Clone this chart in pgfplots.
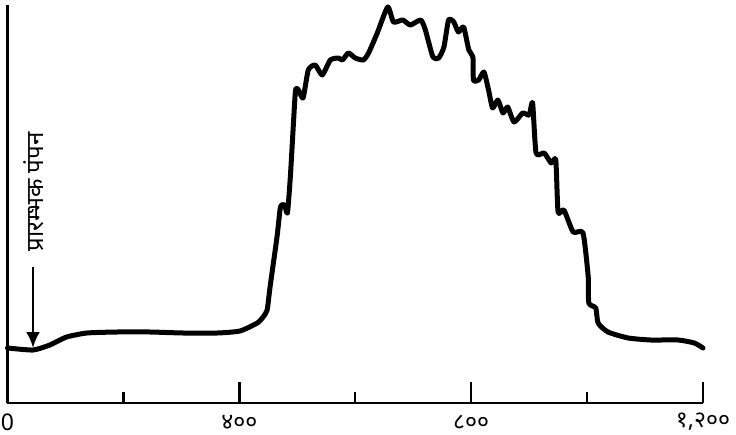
\documentclass[border=0pt]{standalone}
\usepackage{fontspec}
\setmainfont{Noto Sans}
\newfontfamily\devfont[Script=Devanagari]{Noto Sans}
\usepackage{pgfplots}
\pgfplotsset{compat=1.18}
\usetikzlibrary{arrows.meta}
\begin{document}
\begin{tikzpicture}[x=1pt,y=1pt]
\useasboundingbox (-3.75,-16) rectangle (364.25,201.5);
\begin{axis}[
  at={(0pt,0pt)}, anchor=south west,
  scale only axis, width=347.75pt, height=199pt,
  xmin=0, xmax=1200, ymin=0, ymax=398,
  axis x line=bottom, axis y line=left,
  axis line style={-, line width=1.3pt, black},
  xtick={0,400,800,1200},
  xticklabels={0,४००,८००,{१,२००}},
  minor xtick={200,600,1000},
  ytick=\empty,
  tick align=inside,
  major tick length=10.5pt, minor tick length=5.5pt,
  every tick/.style={black, line width=1.2pt},
  xticklabel style={font=\devfont\fontsize{11.5}{11.5}\selectfont, anchor=center, yshift=-9.5pt},
  clip=false,
]
\addplot[black, line width=2.5pt, smooth, tension=0.35, line join=round, line cap=round] coordinates {
(0,55) (44,53) (73,58) (102,66) (137,70) (189,71) (246,71) (303,70) (362,70) (401,72) (431,80) (441,86) (448,93) (453,116) (465,166) (471,196) (478,198) (483,190) (488,226) (493,276) (497,313) (502,313) (510,305) (519,333) (531,338) (543,328) (557,343) (571,345) (578,343) (588,350) (600,345) (614,343) (623,350) (638,370) (656,396) (666,381) (682,383) (695,378) (713,383) (721,373) (734,346) (744,345) (753,356) (761,383) (770,381) (778,371) (787,376) (796,353) (803,346) (804,323) (813,323) (822,331) (830,313) (837,295) (846,303) (855,290) (863,296) (874,281) (889,290) (900,288) (906,300) (912,250) (926,250) (938,240) (946,243) (950,191) (960,193) (976,171) (993,170) (1002,126) (1003,100) (1015,95) (1019,80) (1036,71) (1071,65) (1110,63) (1157,63) (1185,60) (1200,55)
};
\draw[line width=1.4pt, -{Latex[length=8pt,width=7pt]}] (axis cs:44,136) -- (axis cs:44,55);
\node[rotate=90, font=\devfont\fontsize{12}{12}\selectfont] at (axis cs:46,211) {प्रारम्भक पंपन};
\end{axis}
\end{tikzpicture}
\end{document}
